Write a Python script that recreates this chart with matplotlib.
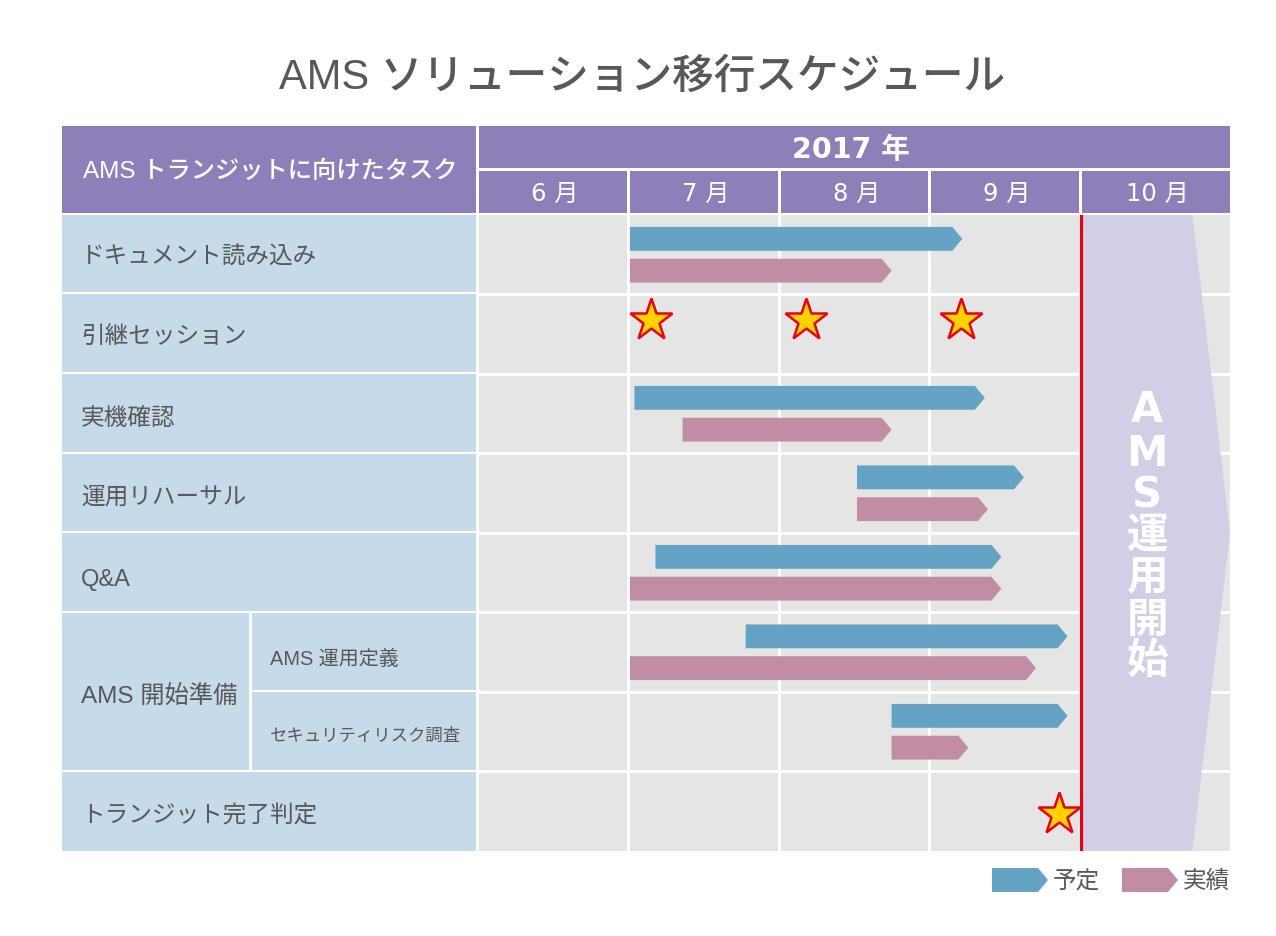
import matplotlib
matplotlib.use("Agg")
import matplotlib.pyplot as plt
from matplotlib.patches import Rectangle

JP = ['Liberation Sans', 'Noto Sans CJK JP']
HEAD = ['DejaVu Sans', 'Noto Sans CJK JP']
plt.rcParams['font.family'] = JP

title = "AMS ソリューション移行スケジュール"
header_task = "AMS トランジットに向けたタスク"
year = "2017 年"
months = [6, 7, 8, 9, 10]
month_labels = ["6 月", "7 月", "8 月", "9 月", "10 月"]

tasks = ["ドキュメント読み込み", "引継セッション", "実機確認", "運用リハーサル", "Q&A",
         "AMS 運用定義", "セキュリティリスク調査", "トランジット完了判定"]
group_label = "AMS 開始準備"

plan_rows = [0, 2, 3, 4, 5, 6]
plan_start = [7.01, 7.04, 8.52, 7.18, 7.78, 8.75]
plan_end = [9.22, 9.37, 9.63, 9.48, 9.92, 9.92]
actual_start = [7.01, 7.36, 8.52, 7.01, 7.01, 8.75]
actual_end = [8.75, 8.75, 9.39, 9.48, 9.71, 9.26]

milestone_x = [7.15, 8.18, 9.21, 9.86]
milestone_row = [1, 1, 1, 7]
golive_x = 10.0
golive_label = "AMS運用開始"

BLUE, PINK, PURPLE, LBLUE, GREY = '#64A3C3', '#C18DA4', '#8E7FB9', '#C5DBEA', '#E5E5E5'
LAV, RED, YEL, TXT = '#D1CEE6', '#E60012', '#FFD200', '#595757'

W, H = 1276, 936
fig = plt.figure(figsize=(W / 100, H / 100), dpi=100)
bg = fig.add_axes([0, 0, 1, 1])
bg.set_xlim(0, W); bg.set_ylim(H, 0); bg.axis('off')


def cell(x0, y0, x1, y1, c):
    bg.add_patch(Rectangle((x0, y0), x1 - x0, y1 - y0, fc=c, ec='none'))


# title & header
bg.text(642, 78, title, ha='center', va='center', fontsize=30, color=TXT, weight='medium')
cell(62, 126, 476, 213, PURPLE)
cell(479, 126, 1230, 168, PURPLE)
bg.text(270, 172, header_task, ha='center', va='center', fontsize=17.5, color='white', weight='medium')
bg.text(851, 150, year, ha='center', va='center', fontsize=20.5, color='white', weight='bold', family=HEAD)
lines = [477.5, 628.5, 779, 929.5, 1080, 1231.5]
for i, lab in enumerate(month_labels):
    cell(lines[i] + 1.5, 171, lines[i + 1] - 1.5, 213, PURPLE)
    bg.text((lines[i] + lines[i + 1]) / 2 + 2, 194, lab, ha='center', va='center',
            fontsize=17.5, color='white', family=HEAD)

# left column
tops = [214.7 + 79.6 * i for i in range(9)]
bottoms = [t - 2 for t in tops[1:-1]] + [851]
label_y = [258, 337, 419, 498, 580, 659, 736, 816]
for i, t in enumerate(tasks):
    if i in (5, 6):
        cell(252, tops[i], 476, bottoms[i], LBLUE)
        bg.text(270, label_y[i], t, va='center', color=TXT, fontsize=14.4 if i == 5 else 12.5)
    else:
        cell(62, tops[i], 476, bottoms[i], LBLUE)
        bg.text(81, label_y[i], t, va='center', color=TXT, fontsize=17)
cell(62, tops[5], 249, bottoms[6], LBLUE)
bg.text(81, 696, group_label, va='center', color=TXT, fontsize=17.5)

# gantt axes
ax = fig.add_axes([479 / W, 1 - 851 / H, (1230 - 479) / W, (851 - 215) / H])
ax.set_xlim(6.0066, 11)
ax.set_ylim(8, 0)
ax.set_facecolor(GREY)
ax.set_xticks([]); ax.set_yticks([])
for s in ax.spines.values():
    s.set_visible(False)
for m in months[1:]:
    ax.axvline(m, color='white', lw=2.2, zorder=1)
for r in range(1, 8):
    ax.axhline(r - 0.005, color='white', lw=2.2, zorder=1)

ax.fill([10.02, 10.75, 11, 10.75, 10.02], [0, 0, 4, 8, 8], color=LAV, lw=0, zorder=2)
ax.axvline(golive_x + 0.01, color=RED, lw=2.3, zorder=3)

HEAD_LEN = 10 / 150.4


def arrow(a, s, e, yc, c, hh=0.15):
    ax.fill([s, e - HEAD_LEN, e, e - HEAD_LEN, s], [yc - hh, yc - hh, yc, yc + hh, yc + hh],
            color=c, lw=0, zorder=4)


for r, ps, pe, als, ale in zip(plan_rows, plan_start, plan_end, actual_start, actual_end):
    arrow(ax, ps, pe, r + 0.30, BLUE)
    arrow(ax, als, ale, r + 0.70, PINK)

ax.plot(milestone_x, [r + (0.32 if r == 1 else 0.54) for r in milestone_row], ls='none', marker='*',
        ms=32, mfc=YEL, mec=RED, mew=1.8, zorder=5, clip_on=False)

ys = [410, 454, 495, 537, 580, 622, 662]
for ch, y in zip(golive_label, ys):
    ax.text(10.45, (y - 215) / 79.5, ch, ha='center', va='center', color='white',
            fontsize=30, weight='bold', zorder=6, family=HEAD if ch in 'AMS' else JP)

# legend
for x0, c, lab in [(992, BLUE, "予定"), (1122, PINK, "実績")]:
    bg.fill([x0, x0 + 46, x0 + 56, x0 + 46, x0], [868, 868, 880, 892, 892], color=c, lw=0)
    bg.text(x0 + 61, 882, lab, va='center', color=TXT, fontsize=17)

fig.savefig('out.png', dpi=100)
